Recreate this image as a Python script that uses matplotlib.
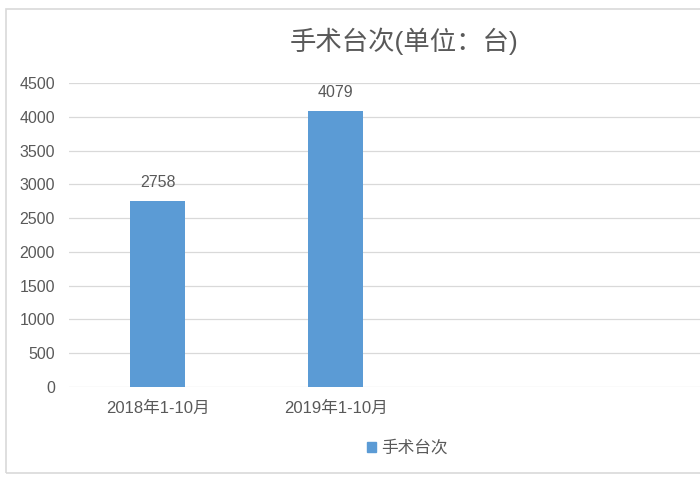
import matplotlib
matplotlib.use("Agg")
import matplotlib.pyplot as plt
from matplotlib.patches import Rectangle, Patch

plt.rcParams['font.family'] = ['Liberation Sans', 'Noto Sans CJK SC']

# data
categories = ["2018年1-10月", "2019年1-10月"]
values = [2758, 4079]
series_name = "手术台次"
title = "手术台次(单位：台)"
y_ticks = [0, 500, 1000, 1500, 2000, 2500, 3000, 3500, 4000, 4500]

bar_color = "#5B9BD5"
text_color = "#595959"
grid_color = "#D9D9D9"

fig = plt.figure(figsize=(7, 4.8), dpi=100)
ax = fig.add_axes([69 / 700, 1 - 387 / 480, 631 / 700, 304 / 480])

x = list(range(len(categories)))
bars = ax.bar(x, values, width=0.31, color=bar_color, zorder=3)
ax.bar_label(bars, padding=8, color=text_color, fontsize=11.5)

ax.set_xlim(-0.5, 3.05)
ax.set_ylim(0, 4500)
ax.set_yticks(y_ticks)
ax.set_xticks(x)
ax.set_xticklabels(categories)
ax.tick_params(axis='both', length=0, labelsize=11.5, labelcolor=text_color)
ax.tick_params(axis='x', labelsize=12)
ax.tick_params(axis='y', pad=10)
ax.tick_params(axis='x', pad=10)
ax.yaxis.grid(True, color=grid_color, linewidth=0.9, zorder=0)
for s in ax.spines.values():
    s.set_visible(False)

fig.text(404 / 700, 1 - 41 / 480, title, ha='center', va='center',
         fontsize=19, color=text_color)

handle = Patch(color=bar_color, label=series_name)
fig.legend(handles=[handle], loc='center', bbox_to_anchor=(407 / 700, 1 - 448 / 480),
           frameon=False, handlelength=0.55, handleheight=0.55, handletextpad=0.3,
           fontsize=12, labelcolor=text_color)

# chart border (cut off at the right)
fig.patches.append(Rectangle((6 / 700, 1 - 473 / 480), 1.0, 464 / 480,
                             transform=fig.transFigure, fill=False,
                             edgecolor=grid_color, linewidth=1.2))

fig.savefig("out.png", dpi=100)
